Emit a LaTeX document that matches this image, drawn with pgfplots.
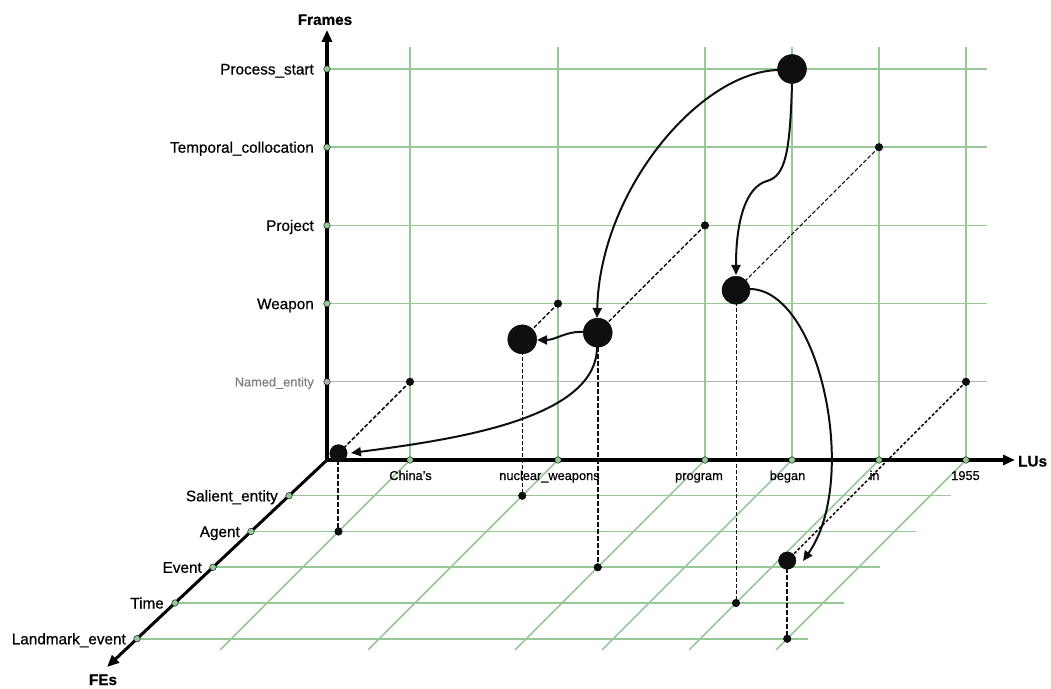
\documentclass[border=0pt]{standalone}
\usepackage{pgfplots}
\pgfplotsset{compat=1.18}
\usepackage{fontspec}
\setmainfont{Liberation Sans}[FakeBold=0.6]
\usetikzlibrary{arrows.meta}
\definecolor{gr}{RGB}{150,201,150}
\definecolor{gy}{RGB}{178,178,178}
\definecolor{gtxt}{RGB}{128,128,128}
\definecolor{dk}{RGB}{15,15,15}
\newcommand\lbl{\fontsize{15.3bp}{18bp}\selectfont\addfontfeature{FakeBold=0.6}}
\newcommand\lbs{\fontsize{12.8bp}{15bp}\selectfont\addfontfeature{FakeBold=0.6}}
\tikzset{
  thickg/.style={color=gr, line width=1.7bp},
  thing/.style={color=gr, line width=1.1bp},
  curv/.style={dk, line width=2bp, -{Triangle[length=10bp,width=9bp]}},
  axl/.style={black, line width=3.2bp, -{Triangle[length=12bp,width=10bp]}},
}
\begin{document}
\begin{tikzpicture}
\begin{axis}[
  x={(1bp,0bp)}, y={(-35.75bp,-35.75bp)}, z={(0bp,78.2bp)},
  hide axis, clip=false,
  xmin=0, xmax=660, ymin=0, ymax=5.31, zmin=0, zmax=5.28,
]
% page frame
\coordinate (TL) at (axis cs:-327,0,5.8824);
\coordinate (BR) at (axis cs:724,0,-2.9156);
% ---- wall (LU x Frames) horizontal grid
\addplot3[thing, color=gy, no markers] coordinates {(0,0,1) (660,0,1)};
\addplot3[thing, no markers] coordinates {(0,0,2) (660,0,2)};
\addplot3[thickg, no markers] coordinates {(0,0,3) (660,0,3)};
\addplot3[thickg, no markers] coordinates {(0,0,4) (660,0,4)};
\addplot3[thing, no markers] coordinates {(0,0,5) (660,0,5)};
% ---- wall vertical grid
\addplot3[thickg, no markers] coordinates {(83,0,0) (83,0,5.28)};
\addplot3[thickg, no markers] coordinates {(231,0,0) (231,0,5.28)};
\addplot3[thickg, no markers] coordinates {(378,0,0) (378,0,5.28)};
\addplot3[thing, no markers] coordinates {(465,0,0) (465,0,5.28)};
\addplot3[thickg, no markers] coordinates {(552,0,0) (552,0,5.28)};
\addplot3[thickg, no markers] coordinates {(639,0,0) (639,0,5.28)};
% ---- floor rows (FEs)
\addplot3[thing, no markers] coordinates {(-2.25,1,0) (660,1,0)};
\addplot3[thickg, no markers] coordinates {(-4.5,2,0) (660,2,0)};
\addplot3[thickg, no markers] coordinates {(-6.75,3,0) (660,3,0)};
\addplot3[thickg, no markers] coordinates {(-9,4,0) (660,4,0)};
\addplot3[thickg, no markers] coordinates {(-11.25,5,0) (660,5,0)};
% ---- floor diagonals (LUs)
\addplot3[thickg, no markers] coordinates {(83,0,0) (83,5.31,0)};
\addplot3[thickg, no markers] coordinates {(231,0,0) (231,5.31,0)};
\addplot3[thickg, no markers] coordinates {(378,0,0) (378,5.31,0)};
\addplot3[thickg, no markers] coordinates {(465,0,0) (465,5.31,0)};
\addplot3[thickg, no markers] coordinates {(552,0,0) (552,5.31,0)};
\addplot3[thickg, no markers] coordinates {(639,0,0) (639,5.31,0)};
% ---- axes
\addplot3[axl, no markers] coordinates {(0,0,0) (688,0,0)};
\addplot3[axl, no markers] coordinates {(0,0,0) (0,0,5.5)};
\addplot3[axl, line width=3bp, no markers] coordinates {(0,0,0) (-13,5.79,0)};
% ---- tick dots
\addplot3[only marks, mark=*, mark size=3.3bp, mark options={draw=none, fill=gr}] coordinates {
 (83,0,0) (231,0,0) (378,0,0) (465,0,0) (552,0,0) (639,0,0)
 (0,0,2) (0,0,3) (0,0,4) (0,0,5)
 (-2.25,1,0) (-4.5,2,0) (-6.75,3,0) (-9,4,0) (-11.25,5,0)};
\addplot3[only marks, mark=*, mark size=3.3bp, mark options={draw=none, fill=gy}] coordinates {(0,0,1)};
% ---- dashed projection lines
\addplot3[dk, line width=1.5bp, dash pattern=on 4bp off 2bp, no markers] coordinates {(83,0,1) (83,2,1)};
\addplot3[dk, line width=2bp, dash pattern=on 5bp off 2bp, no markers] coordinates {(83,2,1) (83,2,0)};
\addplot3[dk, line width=1.3bp, dash pattern=on 4bp off 2bp, no markers] coordinates {(231,0,2) (231,1,2)};
\addplot3[dk, line width=1.3bp, dash pattern=on 4bp off 2bp, no markers] coordinates {(231,1,2) (231,1,0)};
\addplot3[dk, line width=1.3bp, dash pattern=on 4bp off 2bp, no markers] coordinates {(378,0,3) (378,3,3)};
\addplot3[dk, line width=1.8bp, dash pattern=on 5bp off 2bp, no markers] coordinates {(378,3,3) (378,3,0)};
\addplot3[dk, line width=1bp, dash pattern=on 4bp off 2bp, no markers] coordinates {(552,0,4) (552,4,4)};
\addplot3[dk, line width=1bp, dash pattern=on 4bp off 2bp, no markers] coordinates {(552,4,4) (552,4,0)};
\addplot3[dk, line width=1.5bp, dash pattern=on 3bp off 2bp, no markers] coordinates {(639,0,1) (639,5,1)};
\addplot3[dk, line width=2bp, dash pattern=on 5bp off 2bp, no markers] coordinates {(639,5,1) (639,5,0)};
% ---- small dots (wall and floor projections)
\addplot3[only marks, mark=*, mark size=3.8bp, mark options={draw=none, fill=dk}] coordinates {
 (83,0,1) (231,0,2) (378,0,3) (552,0,4) (639,0,1)
 (83,2,0) (231,1,0) (378,3,0) (552,4,0) (639,5,0)};
% ---- curved arrows
\draw[curv] (axis cs:451,0,4.987) .. controls (axis cs:373,0,4.962) and (axis cs:273,0,3.453) .. (axis cs:270,0,1.816);
\draw[curv] (axis cs:465,0,4.808) .. controls (axis cs:463,0,3.964) and (axis cs:459,0,3.632) .. (axis cs:440,0,3.568)
  .. controls (axis cs:419,0,3.491) and (axis cs:409,0,3.069) .. (axis cs:409,0,2.366);
\draw[curv] (axis cs:256,0,1.637) .. controls (axis cs:239,0,1.650) and (axis cs:229,0,1.535) .. (axis cs:210,0,1.535);
\draw[curv] (axis cs:270,0,1.445) .. controls (axis cs:270,0,0.512) and (axis cs:123,0,0.256) .. (axis cs:24,0,0.0895);
\draw[curv] (axis cs:423,0,2.187) .. controls (axis cs:493,0,2.174) and (axis cs:533,0,-0.256) .. (axis cs:476,0,-1.292);
% ---- big circles (frame instances)
\addplot3[only marks, mark=*, mark size=14.5bp, mark options={draw=none, fill=dk}] coordinates {(465,0,5) (378,3,3) (231,1,2)};
\addplot3[only marks, mark=*, mark size=14bp, mark options={draw=none, fill=dk}] coordinates {(552,4,4)};
\addplot3[only marks, mark=*, mark size=8.7bp, mark options={draw=none, fill=dk}] coordinates {(83,2,1) (639,5,1)};
% ---- labels: frames
\node[font=\lbl, inner sep=0, anchor=base east, xshift=-13bp, yshift=-5.5bp] at (axis cs:0,0,5) {Process\_start};
\node[font=\lbl, inner sep=0, anchor=base east, xshift=-13bp, yshift=-5.5bp] at (axis cs:0,0,4) {Temporal\_collocation};
\node[font=\lbl, inner sep=0, anchor=base east, xshift=-13bp, yshift=-5.5bp] at (axis cs:0,0,3) {Project};
\node[font=\lbl, inner sep=0, anchor=base east, xshift=-13bp, yshift=-5.5bp] at (axis cs:0,0,2) {Weapon};
\node[font=\lbs, text=gtxt, inner sep=0, anchor=base east, xshift=-13bp, yshift=-4.6bp] at (axis cs:0,0,1) {Named\_entity};
% ---- labels: FEs
\node[font=\lbl, inner sep=0, anchor=base east, xshift=-11bp, yshift=-5.5bp] at (axis cs:-2.25,1,0) {Salient\_entity};
\node[font=\lbl, inner sep=0, anchor=base east, xshift=-11bp, yshift=-5.5bp] at (axis cs:-4.5,2,0) {Agent};
\node[font=\lbl, inner sep=0, anchor=base east, xshift=-11bp, yshift=-5.5bp] at (axis cs:-6.75,3,0) {Event};
\node[font=\lbl, inner sep=0, anchor=base east, xshift=-11bp, yshift=-5.5bp] at (axis cs:-9,4,0) {Time};
\node[font=\lbl, inner sep=0, anchor=base east, xshift=-11bp, yshift=-5.5bp] at (axis cs:-11.25,5,0) {Landmark\_event};
% ---- labels: LUs
\node[font=\lbs, inner sep=0, anchor=base, yshift=-20bp, xshift=0.5bp] at (axis cs:83,0,0) {China's};
\node[font=\lbs, inner sep=0, anchor=base, yshift=-20bp, xshift=-8.5bp] at (axis cs:231,0,0) {nuclear\_weapons};
\node[font=\lbs, inner sep=0, anchor=base, yshift=-20bp, xshift=-6bp] at (axis cs:378,0,0) {program};
\node[font=\lbs, inner sep=0, anchor=base, yshift=-20bp, xshift=-4.5bp] at (axis cs:465,0,0) {began};
\node[font=\lbs, inner sep=0, anchor=base, yshift=-20bp, xshift=-4.5bp] at (axis cs:552,0,0) {in};
\node[font=\lbs, inner sep=0, anchor=base, yshift=-20bp, xshift=-0.5bp] at (axis cs:639,0,0) {1955};
% ---- axis titles
\node[font=\lbl\bfseries, inner sep=0, anchor=base, xshift=-2bp, yshift=5bp] at (axis cs:0,0,5.5) {Frames};
\node[font=\lbl\bfseries, inner sep=0, anchor=base west, xshift=3bp, yshift=-6.5bp] at (axis cs:688,0,0) {LUs};
\node[font=\lbl\bfseries, inner sep=0, anchor=base, xshift=-4bp, yshift=-18bp] at (axis cs:-13,5.79,0) {FEs};
\end{axis}
\pgfresetboundingbox
\useasboundingbox (TL) rectangle (BR);
\end{tikzpicture}
\end{document}
